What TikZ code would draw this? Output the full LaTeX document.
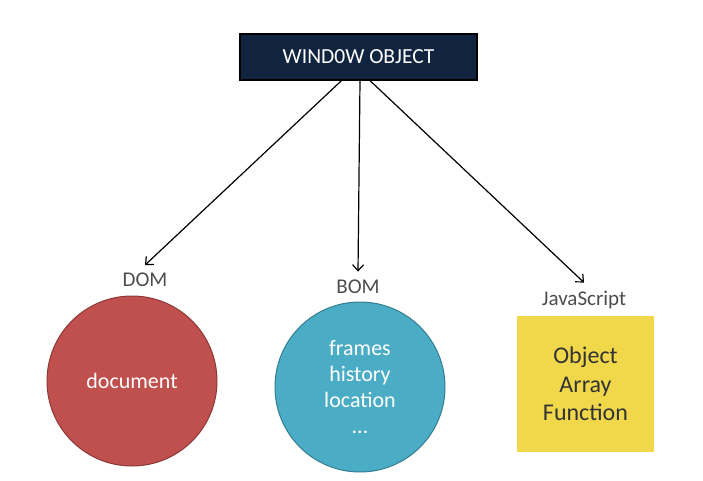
\documentclass[tikz,border=0pt]{standalone}
\usepackage{fontspec}
\setmainfont{Carlito}
\usepackage{xcolor}
\usetikzlibrary{arrows.meta, positioning}

\definecolor{winblue}{HTML}{10243F}
\definecolor{domred}{HTML}{C0504D}
\definecolor{domedge}{HTML}{8C3836}
\definecolor{bomblue}{HTML}{4BACC6}
\definecolor{bomedge}{HTML}{357D91}
\definecolor{jsyellow}{HTML}{F1D84B}
\definecolor{labelgray}{HTML}{4D4D4D}

\begin{document}
\begin{tikzpicture}[x=1pt, y=-1pt,
        winbox/.style={draw=black, line width=1.2pt, fill=winblue, text=white,
            minimum width=237pt, minimum height=46pt, font=\fontsize{21.5}{24}\selectfont},
        part/.style={circle, line width=1pt, minimum size=170pt, text=white,
            align=center, font=\fontsize{22}{26}\selectfont},
        jsbox/.style={fill=jsyellow, minimum width=137pt, minimum height=136pt,
            text=black!80, align=center, font=\fontsize{24}{28.5}\selectfont},
        tag/.style={text=labelgray, font=\fontsize{21}{23}\selectfont},
        arr/.style={-{Straight Barb[length=6pt, width=11pt]}, line width=1.2pt}]
        \useasboundingbox (0,0) rectangle (703,481);

        \node[winbox] (win) at (358.5,57) {WIND0W OBJECT};

        \node[part, fill=domred, draw=domedge] (dom) at (132,381) {document};
        \node[part, fill=bomblue, draw=bomedge] (bom) at (360,387) {frames\\history\\location\\...};
        \node[jsbox] (js) at (585.5,384) {Object\\Array\\Function};

        \node[tag] (domtag) at (145,280) {DOM};
        \node[tag] (bomtag) at (358,287) {BOM};
        \node[tag] (jstag) at (584,300) {JavaScript};

        \draw[arr] ([xshift=-17pt]win.south) -- ([yshift=4.5pt]domtag.north);
        \draw[arr] ([xshift=1.5pt]win.south) -- ([yshift=5pt]bomtag.north);
        \draw[arr] ([xshift=11.5pt]win.south) -- ([yshift=5pt]jstag.north);
\end{tikzpicture}
\end{document}
